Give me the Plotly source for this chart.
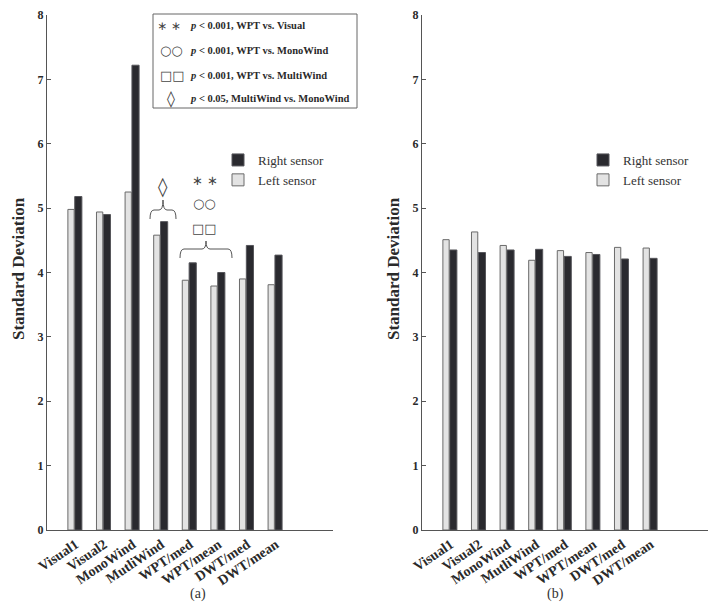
import plotly.graph_objects as go

W, H = 714, 615

categories = ["Visual1", "Visual2", "MonoWind", "MutliWind", "WPT/med", "WPT/mean", "DWT/med", "DWT/mean"]
left_a = [4.98, 4.94, 5.25, 4.58, 3.88, 3.79, 3.90, 3.81]
right_a = [5.18, 4.90, 7.22, 4.79, 4.15, 4.00, 4.42, 4.27]
left_b = [4.51, 4.63, 4.42, 4.19, 4.34, 4.31, 4.39, 4.38]
right_b = [4.35, 4.31, 4.35, 4.36, 4.25, 4.28, 4.21, 4.22]
yticks = [0, 1, 2, 3, 4, 5, 6, 7, 8]

SERIF = "Liberation Serif"
LIGHT = "#e3e3e3"
DARK = "#2a2a2f"


def X(px):
    return px / W


def Y(py):
    return 1 - py / H


fig = go.Figure()

for xa, ya, lg, lv, rv in [("x", "y", "legend", left_a, right_a),
                           ("x2", "y2", "legend2", left_b, right_b)]:
    fig.add_trace(go.Bar(x=categories, y=rv, name="Right sensor", xaxis=xa, yaxis=ya,
                         legend=lg, width=0.25, offset=-0.03,
                         marker=dict(color=DARK, line=dict(color="#55555a", width=1))))
    fig.add_trace(go.Bar(x=categories, y=lv, name="Left sensor", xaxis=xa, yaxis=ya,
                         legend=lg, width=0.22, offset=-0.27,
                         marker=dict(color=LIGHT, line=dict(color="#6a6a6a", width=1))))

axis_common = dict(showline=True, linecolor="#555555", linewidth=1, showgrid=False,
                   zeroline=False, mirror=False, automargin=False)
xcommon = dict(axis_common, type="category", range=[-1, 9], ticks="", tickangle=-34,
               tickfont=dict(family=SERIF, size=14, color="#2a2a2a", weight="bold"))
ycommon = dict(axis_common, range=[0, 8], tickvals=yticks, ticks="inside", ticklen=4,
               tickcolor="#555555",
               tickfont=dict(family=SERIF, size=12, color="#2a2a2a", weight="bold"))

ydom = [Y(530), Y(15)]
fig.update_layout(
    width=W, height=H,
    margin=dict(l=0, r=0, t=0, b=0),
    paper_bgcolor="white", plot_bgcolor="white",
    barmode="overlay",
    xaxis=dict(xcommon, domain=[X(47), X(333)], anchor="y"),
    yaxis=dict(ycommon, domain=ydom, anchor="x"),
    xaxis2=dict(xcommon, domain=[X(422), X(708)], anchor="y2"),
    yaxis2=dict(ycommon, domain=ydom, anchor="x2"),
    legend=dict(x=X(218), y=Y(145), xanchor="left", yanchor="top", bgcolor="rgba(0,0,0,0)",
                font=dict(family=SERIF, size=13, color="#333"), tracegroupgap=0,
                traceorder="normal"),
    legend2=dict(x=X(583), y=Y(145), xanchor="left", yanchor="top", bgcolor="rgba(0,0,0,0)",
                 font=dict(family=SERIF, size=13, color="#333"), tracegroupgap=0,
                 traceorder="normal"),
)

ann = []
# axis titles
for xp in (18, 393):
    ann.append(dict(x=X(xp), y=Y(269), xref="paper", yref="paper", text="Standard Deviation",
                    textangle=-90, showarrow=False, xanchor="center", yanchor="middle",
                    font=dict(family=SERIF, size=17, color="#2a2a2a", weight="bold")))
# captions
ann.append(dict(x=X(188), y=Y(604), xref="paper", yref="paper", text="(a)", showarrow=False,
                font=dict(family=SERIF, size=14, color="#333")))
ann.append(dict(x=X(566), y=Y(604), xref="paper", yref="paper", text="(b)", showarrow=False,
                font=dict(family=SERIF, size=14, color="#333")))

# significance key box
key_rows = [
    ("∗ ∗", 169, 26, 12, "<i>p</i> &lt; 0.001, WPT vs. Visual"),
    ("○○", 171, 50, 13, "<i>p</i> &lt; 0.001, WPT vs. MonoWind"),
    ("□□", 172, 75, 13, "<i>p</i> &lt; 0.001, WPT vs. MultiWind"),
    ("◊", 171, 98, 16, "<i>p</i> &lt; 0.05, MultiWind vs. MonoWind"),
]
for sym, sx, sy, sz, txt in key_rows:
    ann.append(dict(x=X(sx), y=Y(sy), xref="paper", yref="paper", text=sym, showarrow=False,
                    xanchor="center", yanchor="middle",
                    font=dict(family="DejaVu Sans", size=sz, color="#444")))
    ann.append(dict(x=X(188), y=Y(sy), xref="paper", yref="paper", text=txt, showarrow=False,
                    xanchor="left", yanchor="middle",
                    font=dict(family=SERIF, size=10.5, color="#2a2a2a", weight="bold")))

# significance marks above bars
for sym, sx, sy, sz in [("◊", 163, 186, 19), ("∗ ∗", 205, 180, 13), ("○○", 205, 203, 13), ("□□", 205, 228, 13)]:
    ann.append(dict(x=X(sx), y=Y(sy), xref="paper", yref="paper", text=sym, showarrow=False,
                    xanchor="center", yanchor="middle",
                    font=dict(family="DejaVu Sans", size=sz, color="#444")))
fig.update_layout(annotations=ann)


def brace(x0, x1, yb, ym, yt, r=4):
    xc = (x0 + x1) / 2
    pts = [
        f"M{X(x0)},{Y(yb)}",
        f"Q{X(x0)},{Y(ym)} {X(x0 + r)},{Y(ym)}",
        f"L{X(xc - r)},{Y(ym)}",
        f"Q{X(xc)},{Y(ym)} {X(xc)},{Y(yt)}",
        f"Q{X(xc)},{Y(ym)} {X(xc + r)},{Y(ym)}",
        f"L{X(x1 - r)},{Y(ym)}",
        f"Q{X(x1)},{Y(ym)} {X(x1)},{Y(yb)}",
    ]
    return " ".join(pts)


shapes = [
    dict(type="rect", xref="paper", yref="paper", x0=X(153), x1=X(357), y0=Y(108), y1=Y(14),
         line=dict(color="#666666", width=1), fillcolor="white"),
    dict(type="path", xref="paper", yref="paper", path=brace(150, 176, 219, 210, 200),
         line=dict(color="#555555", width=1)),
    dict(type="path", xref="paper", yref="paper", path=brace(180, 232, 258, 249, 241),
         line=dict(color="#555555", width=1)),
]
fig.update_layout(shapes=shapes)

fig.write_html("out.html")
